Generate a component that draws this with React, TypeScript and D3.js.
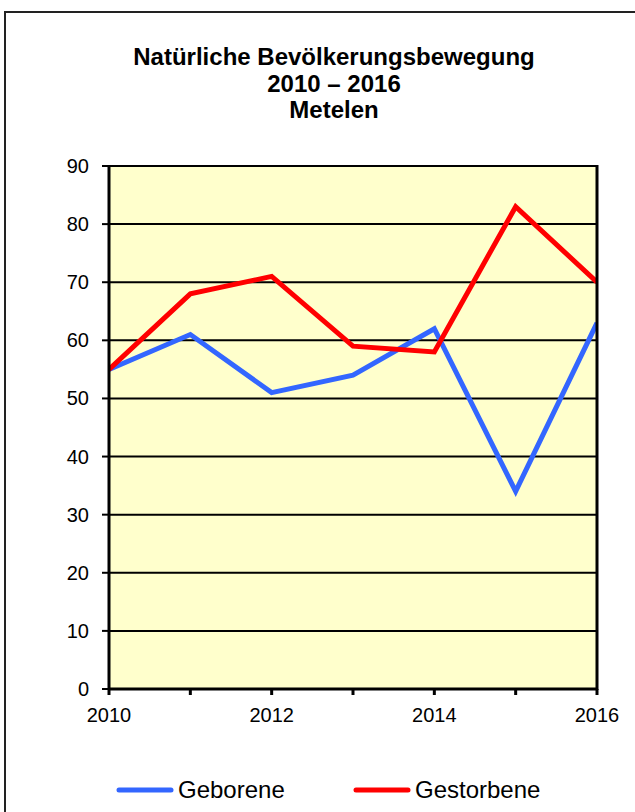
import React from "react";
import * as d3 from "d3";

const years = [2010, 2011, 2012, 2013, 2014, 2015, 2016];
const geborene = [55, 61, 51, 54, 62, 34, 63];
const gestorbene = [55, 68, 71, 59, 58, 83, 70];
const yTicks = [0, 10, 20, 30, 40, 50, 60, 70, 80, 90];
const xLabels = [2010, 2012, 2014, 2016];
const titleLines = ["Natürliche Bevölkerungsbewegung", "2010 – 2016", "Metelen"];
const seriesNames = ["Geborene", "Gestorbene"];

const W = 635;
const H = 812;
const left = 109;
const right = 597;
const top = 166;
const bottom = 689;
const FONT = "Arial, 'Liberation Sans', sans-serif";

export default function App() {
  const x = d3.scaleLinear().domain([2010, 2016]).range([left, right]);
  const y = d3.scaleLinear().domain([0, 90]).range([bottom, top]);
  const line = d3
    .line<number>()
    .x((_, i) => x(years[i]))
    .y((d) => y(d));
  const colors = ["#3366FF", "#FF0000"];
  const series = [geborene, gestorbene];

  return (
    <svg
      width={W}
      height={H}
      style={{ position: "absolute", left: 0, top: 0, background: "#fff" }}
    >
      <rect x={0} y={0} width={W} height={H} fill="#fff" />
      <rect x={5} y={12} width={W + 50} height={H + 50} fill="none" stroke="#222" strokeWidth={2} />
      {titleLines.map((t, i) => (
        <text
          key={i}
          x={334}
          y={65 + i * 26.5}
          textAnchor="middle"
          fontFamily={FONT}
          fontWeight="bold"
          fontSize={24}
          fill="#000"
        >
          {t}
        </text>
      ))}
      <defs>
        <clipPath id="plotclip">
          <rect x={left} y={top - 20} width={right - left} height={bottom - top + 40} />
        </clipPath>
      </defs>
      <rect x={left} y={top} width={right - left} height={bottom - top} fill="#FFFFCC" />
      {yTicks.map((v) => (
        <g key={v}>
          <line x1={left} x2={right} y1={y(v)} y2={y(v)} stroke="#000" strokeWidth={2} />
          <line x1={left - 7} x2={left} y1={y(v)} y2={y(v)} stroke="#000" strokeWidth={2} />
          <text
            x={89}
            y={y(v) + 7}
            textAnchor="end"
            fontFamily={FONT}
            fontSize={20}
            fill="#000"
          >
            {v}
          </text>
        </g>
      ))}
      {years.map((yr) => (
        <line key={yr} x1={x(yr)} x2={x(yr)} y1={bottom} y2={bottom + 6} stroke="#000" strokeWidth={3} />
      ))}
      {xLabels.map((yr) => (
        <text
          key={yr}
          x={x(yr)}
          y={722}
          textAnchor="middle"
          fontFamily={FONT}
          fontSize={20}
          fill="#000"
        >
          {yr}
        </text>
      ))}
      <g clipPath="url(#plotclip)">
        {series.map((s, i) => (
          <path
            key={i}
            d={line(s) || ""}
            fill="none"
            stroke={colors[i]}
            strokeWidth={5}
            strokeLinejoin="miter"
          />
        ))}
      </g>
      <line x1={left} x2={left} y1={top - 1} y2={bottom + 1} stroke="#000" strokeWidth={3} />
      <line x1={right} x2={right} y1={top - 1} y2={bottom + 1} stroke="#000" strokeWidth={3} />
      <line x1={left - 1} x2={right + 1} y1={bottom} y2={bottom} stroke="#000" strokeWidth={3} />
      {seriesNames.map((n, i) => {
        const lx = i === 0 ? 119 : 356;
        return (
          <g key={n}>
            <line x1={lx} x2={lx + 52} y1={790} y2={790} stroke={colors[i]} strokeWidth={5} strokeLinecap="round" />
            <text x={lx + 59} y={798} fontFamily={FONT} fontSize={24} fill="#000">
              {n}
            </text>
          </g>
        );
      })}
    </svg>
  );
}
